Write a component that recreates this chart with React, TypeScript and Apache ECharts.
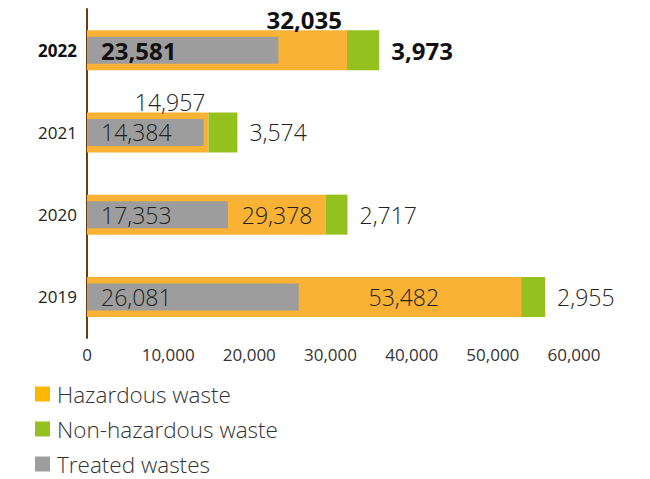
import React, { useEffect, useRef } from "react";
import * as echarts from "echarts";

const years = ["2019", "2020", "2021", "2022"];
const hazardous = [53482, 29378, 14957, 32035];
const nonHazardous = [2955, 2717, 3574, 3973];
const treated = [26081, 17353, 14384, 23581];
const xTicks = [0, 10000, 20000, 30000, 40000, 50000, 60000];
const seriesNames = ["Hazardous waste", "Non-hazardous waste", "Treated wastes"];

const ORANGE = "#F9B233";
const GREEN = "#95C11F";
const GRAY = "#9D9D9D";
const FONT = "Open Sans";

const fmt = (v: number) => v.toLocaleString("en-US");

export default function App() {
  const ref = useRef<HTMLDivElement>(null);
  useEffect(() => {
    if (!ref.current) return;
    const chart = echarts.init(ref.current, null, { renderer: "svg" });
    const bold = { fontWeight: "bold", fontSize: 24, color: "#111" };
    const light = { fontWeight: 300, fontSize: 23, color: "#222" };
    const orangeLabels = [
      { position: ["100%", "50%"], align: "right", verticalAlign: "middle", offset: [-82, 0], ...light },
      { position: ["100%", "50%"], align: "right", verticalAlign: "middle", offset: [-13, 0], ...light },
      { position: ["100%", 0], align: "right", verticalAlign: "bottom", offset: [-3, 1], ...light },
      { position: ["100%", 0], align: "right", verticalAlign: "bottom", offset: [-5, 1], ...bold },
    ];
    chart.setOption({
      animation: false,
      textStyle: { fontFamily: FONT },
      grid: { left: 87, right: 76, top: 9, bottom: 141, containLabel: false },
      legend: {
        orient: "vertical",
        left: 30,
        top: 377,
        height: 102,
        itemWidth: 15,
        itemHeight: 15,
        itemGap: 11,
        icon: "rect",
        textStyle: { fontSize: 22.5, lineHeight: 24, color: "#333", fontWeight: 300, fontFamily: FONT, padding: [0, 0, 0, 2] },
        data: [
          { name: seriesNames[0], itemStyle: { color: "#FBB800" } },
          { name: seriesNames[1], itemStyle: { color: GREEN } },
          { name: seriesNames[2], itemStyle: { color: GRAY } },
        ],
      },
      xAxis: {
        type: "value",
        min: xTicks[0],
        max: xTicks[xTicks.length - 1],
        interval: xTicks[1] - xTicks[0],
        axisLine: { show: false },
        axisTick: { show: false },
        splitLine: { show: false },
        axisLabel: { fontSize: 17, color: "#333", margin: 8, fontFamily: FONT, formatter: (v: number) => fmt(v) },
      },
      yAxis: [
        {
          type: "category",
          data: years,
          axisLine: { show: true, lineStyle: { color: "#6E3B0F", width: 2 } },
          axisTick: { show: false },
          axisLabel: {
            fontSize: 17,
            color: "#222",
            margin: 10,
            fontFamily: FONT,
            formatter: (v: string) => (v === "2022" ? `{b|${v}}` : v),
            rich: { b: { fontWeight: "bold", fontSize: 17, color: "#111", fontFamily: FONT } },
          },
        },
        {
          type: "category",
          data: years,
          show: false,
        },
      ],
      series: [
        {
          name: seriesNames[0],
          type: "bar",
          stack: "total",
          yAxisIndex: 0,
          barWidth: 40,
          itemStyle: { color: ORANGE },
          data: hazardous.map((v, i) => ({
            value: v,
            label: { show: true, formatter: (p: any) => fmt(p.value), fontFamily: FONT, ...orangeLabels[i] },
          })),
        },
        {
          name: seriesNames[1],
          type: "bar",
          stack: "total",
          yAxisIndex: 0,
          barWidth: 40,
          itemStyle: { color: GREEN },
          data: nonHazardous.map((v, i) => ({
            value: v,
            label: {
              show: true,
              position: "right",
              distance: 12,
              fontFamily: FONT,
              formatter: (p: any) => fmt(p.value),
              ...(years[i] === "2022" ? bold : light),
            },
          })),
        },
        {
          name: seriesNames[2],
          type: "bar",
          yAxisIndex: 1,
          barWidth: 27,
          z: 3,
          itemStyle: { color: GRAY },
          data: treated.map((v, i) => ({
            value: v,
            label: {
              show: true,
              position: "insideLeft",
              distance: 14,
              fontFamily: FONT,
              formatter: (p: any) => fmt(p.value),
              ...(years[i] === "2022" ? bold : light),
            },
          })),
        },
      ],
    });
    return () => chart.dispose();
  }, []);
  return <div ref={ref} style={{ width: 650, height: 479, position: "absolute", left: 0, top: 0 }} />;
}
